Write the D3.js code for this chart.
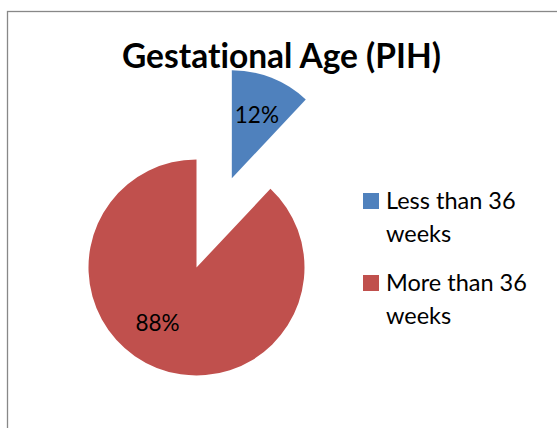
<!DOCTYPE html>
<html>
<head>
<meta charset="utf-8">
<script src="https://cdn.jsdelivr.net/npm/d3@7"></script>
<style>
  html, body { margin: 0; padding: 0; background: #fff; }
  svg { display: block; }
  text { font-family: Lato, "Open Sans", sans-serif; font-variant-ligatures: none; font-feature-settings: "liga" 0, "dlig" 0; }
</style>
</head>
<body>
<svg id="chart" width="557" height="428"></svg>
<script>
const title = "Gestational Age (PIH)";
const categories = ["Less than 36 weeks", "More than 36 weeks"];
const legendLines = [["Less than 36", "weeks"], ["More than 36", "weeks"]];
const values = [12, 88];
const colors = ["#4F81BD", "#C0504D"];

const svg = d3.select("#chart");
const W = 557, H = 428;

// chart border
svg.append("rect")
  .attr("x", 7.5).attr("y", 11.5)
  .attr("width", W + 10).attr("height", H + 10)
  .attr("fill", "#fff").attr("stroke", "#888").attr("stroke-width", 1.3);

const cx = 196.5, cy = 267.5, r = 108, explode = 96;
const total = d3.sum(values);

const pie = d3.pie().sort(null).value(d => d);
const arcs = pie(values);
const arc = d3.arc().innerRadius(0).outerRadius(r);
const labelArc = d3.arc().innerRadius(68).outerRadius(68);

const g = svg.append("g").attr("transform", `translate(${cx},${cy})`);

const slices = g.selectAll("g.slice").data(arcs).enter().append("g")
  .attr("class", "slice")
  .attr("transform", (d, i) => {
    if (i !== 0) return null;
    const a = (d.startAngle + d.endAngle) / 2;
    return `translate(${explode * Math.sin(a)},${-explode * Math.cos(a)})`;
  });

slices.append("path")
  .attr("d", arc)
  .attr("fill", (d, i) => colors[i]);

const nudges = [[0, 0], [-14, -8]];
slices.append("text")
  .attr("transform", (d, i) => {
    const c = labelArc.centroid(d);
    return `translate(${c[0] + nudges[i][0]},${c[1] + nudges[i][1]})`;
  })
  .attr("text-anchor", "middle")
  .attr("dy", "0.36em")
  .attr("font-size", 22.5)
  .attr("fill", "#000")
  .text(d => Math.round(d.data / total * 100) + "%");

// title (drawn over the pie)
svg.append("text")
  .attr("x", 281.5).attr("y", 68)
  .attr("text-anchor", "middle")
  .attr("font-weight", "bold")
  .attr("font-size", 33.5)
  .attr("fill", "#000")
  .text(title);

// legend
const legend = svg.append("g").attr("transform", "translate(363,193)");
const item = legend.selectAll("g").data(categories).enter().append("g")
  .attr("transform", (d, i) => `translate(0,${i * 82})`);
item.append("rect")
  .attr("width", 16).attr("height", 16)
  .attr("fill", (d, i) => colors[i]);
item.each(function (d, i) {
  const t = d3.select(this).append("text")
    .attr("x", 23).attr("y", 16)
    .attr("font-size", 23.5)
    .attr("fill", "#000");
  legendLines[i].forEach((line, j) => {
    t.append("tspan").attr("x", 23).attr("dy", j === 0 ? 0 : 33).text(line);
  });
});
</script>
</body>
</html>
